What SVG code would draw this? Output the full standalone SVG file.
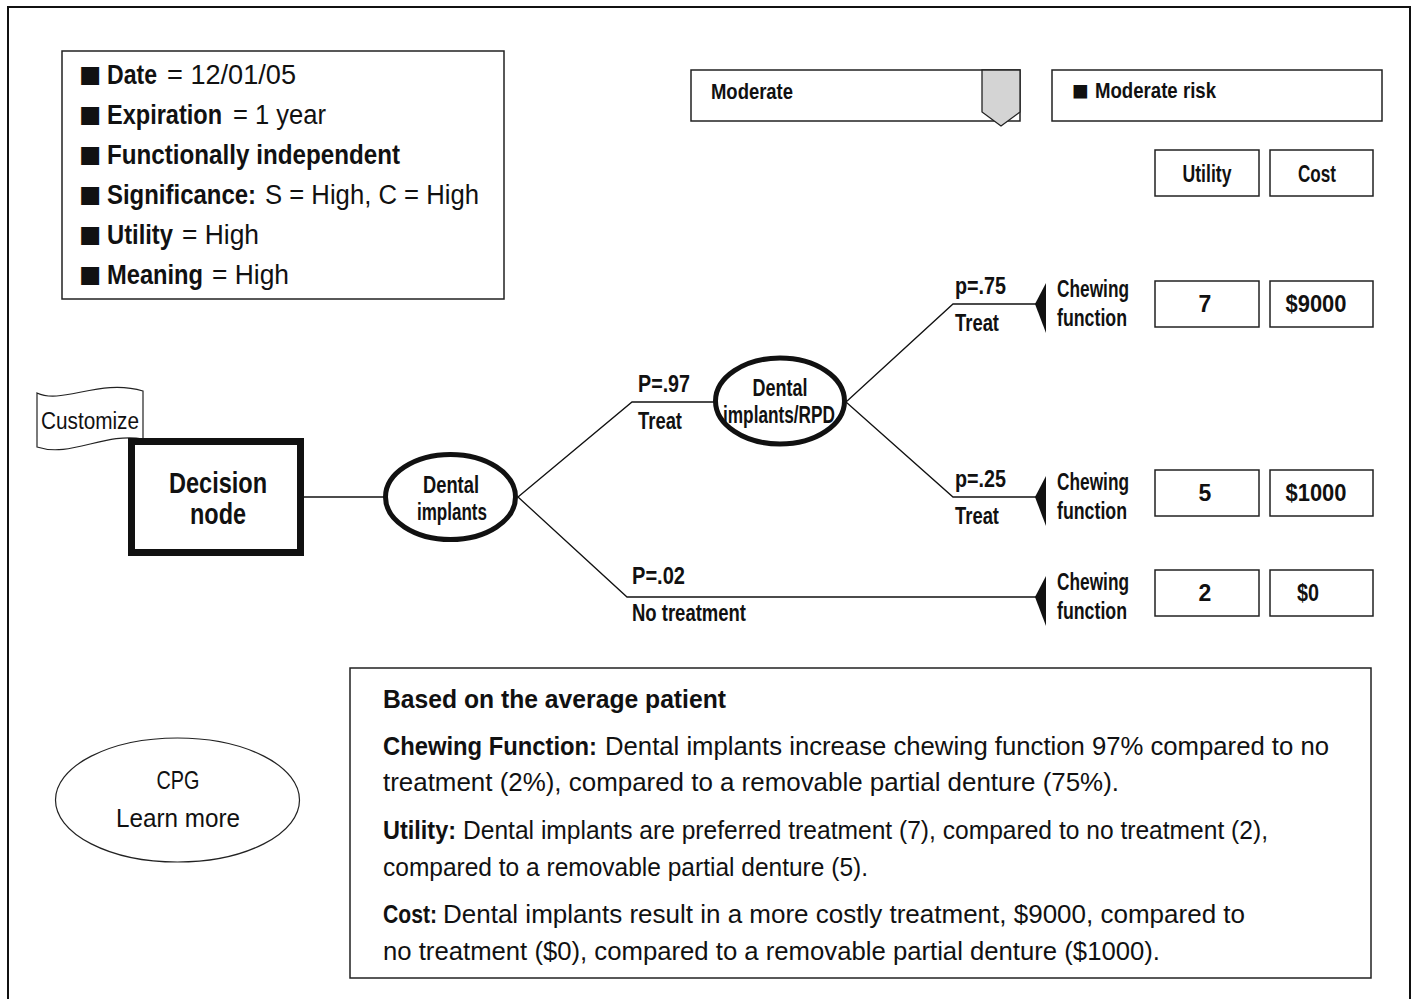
<svg xmlns="http://www.w3.org/2000/svg" width="1412" height="999" viewBox="0 0 1412 999">
  <style>
    text { font-family: "Liberation Sans Narrow", "Liberation Sans", Arial, sans-serif; fill: #111; }
    .b { font-weight: bold; }
    .lg { font-size: 27px; }
    .bul { font-size: 37px; }
    .lb { font-size: 23px; font-weight: bold; }
    .tx { font-size: 26px; }
    .box { fill: #fff; stroke: #222; stroke-width: 1.5; }
    .wire { fill: none; stroke: #111; stroke-width: 1.3; }
    .chance { fill: #fff; stroke: #111; stroke-width: 5; }
    .tri { fill: #111; stroke: none; }
    .mid { text-anchor: middle; }
  </style>

  <!-- outer frame -->
  <rect x="8" y="7" width="1402" height="1010" fill="#fff" stroke="#111" stroke-width="2"/>

  <!-- guideline summary -->
  <g id="summary">
    <rect class="box" x="62" y="51" width="442" height="248"/>
    <text class="bul" x="79" y="87">■</text>
    <text class="lg b" x="107" y="84" textLength="50" lengthAdjust="spacingAndGlyphs">Date</text>
    <text class="lg" x="167" y="84" textLength="129" lengthAdjust="spacingAndGlyphs">= 12/01/05</text>
    <text class="bul" x="79" y="127">■</text>
    <text class="lg b" x="107" y="124" textLength="115" lengthAdjust="spacingAndGlyphs">Expiration</text>
    <text class="lg" x="233" y="124" textLength="93" lengthAdjust="spacingAndGlyphs">= 1 year</text>
    <text class="bul" x="79" y="167">■</text>
    <text class="lg b" x="107" y="164" textLength="293" lengthAdjust="spacingAndGlyphs">Functionally independent</text>
    <text class="bul" x="79" y="207">■</text>
    <text class="lg b" x="107" y="204" textLength="149" lengthAdjust="spacingAndGlyphs">Significance:</text>
    <text class="lg" x="265" y="204" textLength="214" lengthAdjust="spacingAndGlyphs">S = High, C = High</text>
    <text class="bul" x="79" y="247">■</text>
    <text class="lg b" x="107" y="244" textLength="66" lengthAdjust="spacingAndGlyphs">Utility</text>
    <text class="lg" x="182" y="244" textLength="77" lengthAdjust="spacingAndGlyphs">= High</text>
    <text class="bul" x="79" y="287">■</text>
    <text class="lg b" x="107" y="284" textLength="96" lengthAdjust="spacingAndGlyphs">Meaning</text>
    <text class="lg" x="212" y="284" textLength="77" lengthAdjust="spacingAndGlyphs">= High</text>
  </g>

  <!-- risk selector -->
  <g id="risk-select">
    <rect class="box" x="691" y="70" width="329" height="51"/>
    <path d="M982,70 L1020,70 L1020,112 L1001,126 L982,112 Z" fill="#d4d4d4" stroke="#222" stroke-width="1.3"/>
    <text class="b" font-size="22" x="711" y="99" textLength="82" lengthAdjust="spacingAndGlyphs">Moderate</text>
  </g>
  <g id="risk-label">
    <rect class="box" x="1052" y="70" width="330" height="51"/>
    <text font-size="28" x="1072" y="100">■</text>
    <text class="b" font-size="22" x="1095" y="98" textLength="121" lengthAdjust="spacingAndGlyphs">Moderate risk</text>
  </g>

  <!-- outcome table headers -->
  <g id="hdr-utility">
    <rect class="box" x="1155" y="150" width="104" height="46"/>
    <text class="lb mid" x="1207" y="182" textLength="49" lengthAdjust="spacingAndGlyphs">Utility</text>
  </g>
  <g id="hdr-cost">
    <rect class="box" x="1270" y="150" width="103" height="46"/>
    <text class="lb mid" x="1317" y="182" textLength="38" lengthAdjust="spacingAndGlyphs">Cost</text>
  </g>

  <!-- connectors -->
  <g id="connectors">
    <path class="wire" d="M304,497 H385"/>
    <path class="wire" d="M518,497 L632,402 H714"/>
    <path class="wire" d="M518,497 L627,597 H1036"/>
    <path class="wire" d="M846,402 L953,304 H1036"/>
    <path class="wire" d="M846,402 L953,497 H1036"/>
    <path class="tri" d="M1046,283 L1035,304 L1046,333 Z"/>
    <path class="tri" d="M1046,476 L1035,497 L1046,526 Z"/>
    <path class="tri" d="M1046,576 L1035,597 L1046,626 Z"/>
  </g>

  <!-- branch labels -->
  <g id="branch-labels">
    <text class="lb" x="638" y="392" textLength="52" lengthAdjust="spacingAndGlyphs">P=.97</text>
    <text class="lb" x="638" y="429" textLength="44" lengthAdjust="spacingAndGlyphs">Treat</text>
    <text class="lb" x="955" y="294" textLength="51" lengthAdjust="spacingAndGlyphs">p=.75</text>
    <text class="lb" x="955" y="331" textLength="44" lengthAdjust="spacingAndGlyphs">Treat</text>
    <text class="lb" x="955" y="487" textLength="51" lengthAdjust="spacingAndGlyphs">p=.25</text>
    <text class="lb" x="955" y="524" textLength="44" lengthAdjust="spacingAndGlyphs">Treat</text>
    <text class="lb" x="632" y="584" textLength="53" lengthAdjust="spacingAndGlyphs">P=.02</text>
    <text class="lb" x="632" y="621" textLength="114" lengthAdjust="spacingAndGlyphs">No treatment</text>
  </g>

  <!-- customize flag -->
  <g id="customize">
    <path d="M37,393 C62,405 100,378 143,391 L143,439 C105,432 70,458 37,447 Z" fill="#fff" stroke="#222" stroke-width="1.2"/>
    <text font-size="23" x="41" y="429" textLength="98" lengthAdjust="spacingAndGlyphs">Customize</text>
  </g>

  <!-- decision node -->
  <g id="decision-node">
    <rect x="131.5" y="441.5" width="169" height="111" fill="#fff" stroke="#111" stroke-width="7"/>
    <text class="b mid" font-size="30" x="218" y="493" textLength="98" lengthAdjust="spacingAndGlyphs">Decision</text>
    <text class="b mid" font-size="30" x="218" y="524" textLength="56" lengthAdjust="spacingAndGlyphs">node</text>
  </g>

  <!-- chance node: dental implants -->
  <g id="chance-implants">
    <ellipse class="chance" cx="450.5" cy="497" rx="65" ry="42.5"/>
    <text class="lb mid" x="451" y="493" textLength="56" lengthAdjust="spacingAndGlyphs">Dental</text>
    <text class="lb mid" x="452" y="520" textLength="70" lengthAdjust="spacingAndGlyphs">implants</text>
  </g>

  <!-- chance node: implants vs RPD -->
  <g id="chance-rpd">
    <ellipse class="chance" cx="780" cy="401" rx="64.5" ry="43"/>
    <text class="lb mid" x="780" y="396" textLength="55" lengthAdjust="spacingAndGlyphs">Dental</text>
    <text class="lb mid" x="779" y="423" textLength="112" lengthAdjust="spacingAndGlyphs">implants/RPD</text>
  </g>

  <!-- outcome 1 -->
  <g id="outcome-1">
    <text class="lb" x="1057" y="297" textLength="72" lengthAdjust="spacingAndGlyphs">Chewing</text>
    <text class="lb" x="1057" y="326" textLength="70" lengthAdjust="spacingAndGlyphs">function</text>
    <rect class="box" x="1155" y="281" width="104" height="46"/>
    <text class="lb mid" x="1205" y="312">7</text>
    <rect class="box" x="1270" y="281" width="103" height="46"/>
    <text class="lb mid" x="1316" y="312" textLength="61" lengthAdjust="spacingAndGlyphs">$9000</text>
  </g>

  <!-- outcome 2 -->
  <g id="outcome-2">
    <text class="lb" x="1057" y="490" textLength="72" lengthAdjust="spacingAndGlyphs">Chewing</text>
    <text class="lb" x="1057" y="519" textLength="70" lengthAdjust="spacingAndGlyphs">function</text>
    <rect class="box" x="1155" y="470" width="104" height="46"/>
    <text class="lb mid" x="1205" y="501">5</text>
    <rect class="box" x="1270" y="470" width="103" height="46"/>
    <text class="lb mid" x="1316" y="501" textLength="61" lengthAdjust="spacingAndGlyphs">$1000</text>
  </g>

  <!-- outcome 3 -->
  <g id="outcome-3">
    <text class="lb" x="1057" y="590" textLength="72" lengthAdjust="spacingAndGlyphs">Chewing</text>
    <text class="lb" x="1057" y="619" textLength="70" lengthAdjust="spacingAndGlyphs">function</text>
    <rect class="box" x="1155" y="570" width="104" height="46"/>
    <text class="lb mid" x="1205" y="601">2</text>
    <rect class="box" x="1270" y="570" width="103" height="46"/>
    <text class="lb mid" x="1308" y="601" textLength="22" lengthAdjust="spacingAndGlyphs">$0</text>
  </g>

  <!-- CPG link -->
  <g id="cpg">
    <ellipse cx="177.5" cy="800" rx="122" ry="62" fill="#fff" stroke="#222" stroke-width="1.2"/>
    <text class="mid" font-size="26" x="178" y="789" textLength="43" lengthAdjust="spacingAndGlyphs">CPG</text>
    <text class="mid" font-size="26" x="178" y="827" textLength="124" lengthAdjust="spacingAndGlyphs">Learn more</text>
  </g>

  <!-- explanation panel -->
  <g id="explanation">
    <rect class="box" x="350" y="668" width="1021" height="310"/>
    <text class="tx b" x="383" y="708" textLength="343" lengthAdjust="spacingAndGlyphs">Based on the average patient</text>
    <text class="tx b" x="383" y="755" textLength="214" lengthAdjust="spacingAndGlyphs">Chewing Function:</text>
    <text class="tx" x="605" y="755" textLength="724" lengthAdjust="spacingAndGlyphs">Dental implants increase chewing function 97% compared to no</text>
    <text class="tx" x="383" y="791" textLength="736" lengthAdjust="spacingAndGlyphs">treatment (2%), compared to a removable partial denture (75%).</text>
    <text class="tx b" x="383" y="839" textLength="73" lengthAdjust="spacingAndGlyphs">Utility:</text>
    <text class="tx" x="463" y="839" textLength="805" lengthAdjust="spacingAndGlyphs">Dental implants are preferred treatment (7), compared to no treatment (2),</text>
    <text class="tx" x="383" y="876" textLength="485" lengthAdjust="spacingAndGlyphs">compared to a removable partial denture (5).</text>
    <text class="tx b" x="383" y="923" textLength="54" lengthAdjust="spacingAndGlyphs">Cost:</text>
    <text class="tx" x="443" y="923" textLength="802" lengthAdjust="spacingAndGlyphs">Dental implants result in a more costly treatment, $9000, compared to</text>
    <text class="tx" x="383" y="960" textLength="777" lengthAdjust="spacingAndGlyphs">no treatment ($0), compared to a removable partial denture ($1000).</text>
  </g>
</svg>
